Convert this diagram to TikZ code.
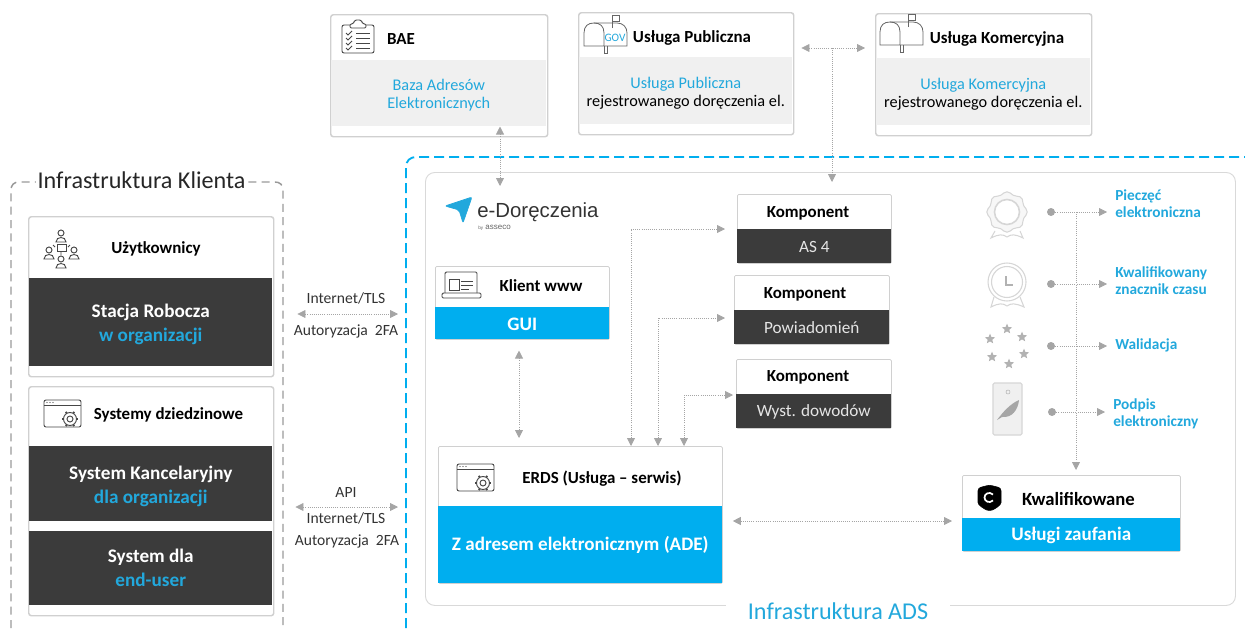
\documentclass[tikz,border=0pt]{standalone}
\usepackage{fontspec}
\setmainfont{Carlito}
\newfontfamily\logofont{Liberation Sans}
\usepackage{xcolor}
\usetikzlibrary{arrows.meta,shapes.geometric,calc}
\definecolor{adsblue}{RGB}{0,174,239}
\definecolor{adstext}{RGB}{34,168,220}
\definecolor{darkband}{RGB}{59,59,59}
\definecolor{greyband}{RGB}{240,240,240}
\definecolor{cardline}{RGB}{208,208,208}
\definecolor{linkgrey}{RGB}{165,165,165}
\definecolor{iconline}{RGB}{70,70,70}
\definecolor{medalline}{RGB}{214,214,214}
\newcommand{\firstline}{\rule{0pt}{0.95em}}

\begin{document}
\begin{tikzpicture}[x=0.75pt,y=0.75pt,yscale=-1,xscale=1,
	size/.style 2 args={minimum width=#1*0.75pt,minimum height=#2*0.75pt},
	card/.style={draw=cardline,line width=1.1pt,rounded corners=2pt,fill=white,anchor=north west,inner sep=0pt},
	softcard/.style={draw=cardline,line width=0.6pt,rounded corners=1pt,fill=white,anchor=north west,inner sep=0pt},
	band/.style={anchor=north west,inner sep=0pt,align=center},
	oneline/.style={execute at begin node={\rule{0pt}{0.75em}}},
	head/.style={inner sep=0pt,text=black,text depth=0pt,font=\fontsize{12.7}{15}\bfseries},
	graybody/.style={band,fill=greyband,font=\fontsize{12.2}{13.5}\selectfont},
	darkbody/.style={band,fill=darkband,text=white,font=\fontsize{14.4}{18}\bfseries},
	darksmall/.style={band,oneline,fill=darkband,text=white!90!black,font=\fontsize{12.9}{15}\selectfont},
	bluebody/.style={band,oneline,fill=adsblue,text=white,font=\fontsize{14.3}{17}\bfseries},
	netlabel/.style={inner sep=0pt,text=black!80,font=\fontsize{11.7}{14}\selectfont},
	side/.style={anchor=west,inner sep=0pt,align=left,text=adstext,font=\fontsize{11.5}{12.75}\bfseries},
	title/.style={inner sep=0pt,fill=white,font=\fontsize{18.1}{22}\selectfont},
	link/.style={draw=linkgrey,line width=0.6pt,densely dotted,>={Triangle[length=6pt,width=6pt,fill=linkgrey]}},
	medal/.style={draw=medalline,line width=0.8pt},
	icon/.style={draw=iconline,line width=0.7pt},
	flake/.style={star,star points=5,star point ratio=2.2,fill=black!30,inner sep=0pt,minimum size=8pt},
	mailbox/.pic={
		\draw [draw=black!60,line width=0.6pt] (0,31) -- (0,18) .. controls (0,11) and (4,8) .. (10,8) .. controls (16,8) and (20,11) .. (20,18) -- (20,31) -- cycle ;
		\draw [draw=black!60,line width=0.6pt] (10,8) -- (33,8) .. controls (39,8) and (43,12) .. (43,18) -- (43,31) -- (20,31) ;
		\draw [draw=black!60,line width=0.6pt] (28,13) -- (28,0) -- (35,0) -- (35,6) -- (28,6) ;
		\draw [draw=black!60,line width=0.6pt] (20,31) -- (20,38) -- (23,38) -- (23,31) ;
	},
	windowgear/.pic={
		\draw [icon,rounded corners=1.5pt] (0,0) rectangle (37,27) ;
		\draw [icon] (0,5) -- (37,5) ;
		\foreach \i in {3,6,9} \fill [iconline] (\i,2.5) circle [radius=0.7] ;
		\draw [icon,fill=white] (26,19) circle [radius=6.5] ;
		\draw [icon] (26,19) circle [radius=3] ;
		\foreach \a in {0,60,...,300} \draw [icon,line width=1.3pt] (26,19) ++(\a:6.5) -- ++(\a:1.8) ;
	},
	person/.pic={
		\draw [icon] (0,0) circle [radius=3] ;
		\draw [icon] (-5,9) .. controls (-5,3) and (5,3) .. (5,9) -- cycle ;
	}]

	\useasboundingbox (0,0) rectangle (1245,628) ;

	%Shape: Client frame
	\draw [draw=black!40,line width=1.1pt,dash pattern=on 6pt off 4pt] (11,628) -- (11,190) .. controls (11,185) and (14,182) .. (19,182) -- (275,182) .. controls (280,182) and (283,185) .. (283,190) -- (283,628) ;
	%Shape: ADS frame
	\draw [draw=adsblue,line width=1.4pt,dash pattern=on 7.5pt off 3.75pt] (406,628) -- (406,167) .. controls (406,161) and (410,157) .. (416,157) -- (1245,157) ;
	%Shape: ADS panel
	\draw (425,172) node [draw=black!15,line width=0.7pt,rounded corners=7pt,anchor=north west,inner sep=0pt,size={810}{433}] (panel) {};

	% Text Node
	\draw (141.5,180) node [title,text=black!85,minimum width=159pt] (clientlabel) {Infrastruktura Klienta};
	% Text Node
	\draw (838,611) node [title,text=adstext,minimum width=168pt,minimum height=14pt] (adslabel) {Infrastruktura ADS};

	%Shape: BAE card
	\draw (330,14) node [card,size={217}{122}] (bae) {};
	\draw (331,60) node [graybody,size={215}{66}] (baeband) {\firstline\textcolor{adstext}{Baza Adresów}\\\textcolor{adstext}{Elektronicznych}};
	\draw (401,39) node [head] (baehead) {BAE};
	\draw [icon,rounded corners=1.5pt] (342,25) rectangle (374,53) ;
	\draw [icon,fill=white,rounded corners=1pt] (350,24) -- (353,24) -- (355,20) -- (361,20) -- (363,24) -- (366,24) -- (366,28) -- (350,28) -- cycle ;
	\foreach \i in {33,38,43,48} {
		\draw [icon] (346,\i) -- (348,\i+2) -- (352,\i-2) ;
		\draw [icon] (356,\i) -- (370,\i) ;
	}

	%Shape: Public service card
	\draw (578,12) node [card,size={215}{122}] (pub) {};
	\draw (579,57) node [graybody,size={213}{67}] (pubband) {\firstline\textcolor{adstext}{Usługa Publiczna}\\rejestrowanego doręczenia el.};
	\draw (692,37) node [head] (pubhead) {Usługa Publiczna};
	\pic [transform shape] at (584,15) {mailbox};
	\draw (615,37.5) node [inner sep=0pt,text=adstext,font=\fontsize{8.5}{10}\selectfont] (govtag) {GOV};

	%Shape: Commercial service card
	\draw (875,13) node [card,size={216}{122}] (kom) {};
	\draw (876,58) node [graybody,size={214}{67}] (komband) {\firstline\textcolor{adstext}{Usługa Komercyjna}\\rejestrowanego doręczenia el.};
	\draw (997,38) node [head] (komhead) {Usługa Komercyjna};
	\pic [transform shape] at (880,14) {mailbox};

	%Shape: Users card
	\draw (28,216) node [card,size={245}{160}] (users) {};
	\draw (29,278) node [darkbody,size={243}{88}] (usersband) {\firstline Stacja Robocza\\\textcolor{adstext}{w organizacji}};
	\draw (156,248) node [head] (usershead) {Użytkownicy};
	\pic [transform shape] at (61,233) {person};
	\pic [transform shape] at (49,250) {person};
	\pic [transform shape] at (74,250) {person};
	\pic [transform shape] at (61,259) {person};
	\draw [icon] (57,244) rectangle (66,251) ;
	\draw [icon] (55,247) -- (53,245) (68,247) -- (70,245) (61,251) -- (61,255) ;

	%Shape: Domain systems card
	\draw (28,386) node [card,size={245}{229}] (systems) {};
	\draw (29,446) node [darkbody,size={243}{75}] (kancband) {\firstline System Kancelaryjny\\\textcolor{adstext}{dla organizacji}};
	\draw (29,531) node [darkbody,size={243}{74}] (enduserband) {System dla\\\textcolor{adstext}{end-user}};
	\draw (168.5,414) node [head] (systemshead) {Systemy dziedzinowe};
	\pic [transform shape] at (44,400) {windowgear};

	%Shape: Logo
	\draw [fill=adstext,draw=adstext,line width=0.5pt,rounded corners=1.5pt] (445,206) -- (472,197) -- (463,223) -- (459,210) -- cycle ;
	\draw (477,212) node [anchor=west,inner sep=0pt,text=black!80,font={\fontsize{15.3}{18}\logofont}] (logo) {e-Doręczenia};
	\draw (478,228) node [anchor=west,inner sep=0pt,text=black!60,font={\fontsize{6}{7}\logofont}] (logoby) {{\fontsize{3.5}{4}\selectfont by} asseco};

	%Shape: Web client card
	\draw (435,266) node [softcard,size={174}{73}] (www) {};
	\draw (435,307) node [bluebody,size={174}{32}] (guiband) {GUI};
	\draw (541,286) node [head] (wwwhead) {Klient www};
	\draw [icon,rounded corners=1pt] (445,293) -- (445,272) -- (477,272) -- (477,293) ;
	\draw [icon,rounded corners=1pt] (442,293) rectangle (481,298) ;
	\draw [icon] (449,279) rectangle (459,290) ;
	\draw [icon] (461,281) -- (473,281) (461,285) -- (473,285) (461,289) -- (469,289) ;

	%Shape: Component cards
	\draw (737,194) node [softcard,size={154}{69}] (as4) {};
	\draw (737,229) node [darksmall,size={154}{34}] (as4band) {AS 4};
	\draw (808,212) node [head] (as4head) {Komponent};
	\draw (734,275) node [softcard,size={155}{69}] (notify) {};
	\draw (734,310) node [darksmall,size={155}{34}] (notifyband) {Powiadomień};
	\draw (805,293) node [head] (notifyhead) {Komponent};
	\draw (736,359) node [softcard,size={155}{69}] (proof) {};
	\draw (736,394) node [darksmall,size={155}{34}] (proofband) {Wyst. dowodów};
	\draw (808,376) node [head] (proofhead) {Komponent};

	%Shape: ERDS card
	\draw (438,446) node [softcard,size={284}{137}] (erds) {};
	\draw (438,506) node [bluebody,size={284}{77}] (erdsband) {Z adresem elektronicznym (ADE)};
	\draw (602,477) node [head] (erdshead) {ERDS (Usługa -- serwis)};
	\pic [transform shape] at (457,464) {windowgear};

	%Shape: Trust card
	\draw (962,475) node [softcard,size={218}{76}] (trust) {};
	\draw (962,518) node [bluebody,size={218}{33}] (trustband) {Usługi zaufania};
	\draw (1078.5,499) node [head,font=\fontsize{14}{16}\bfseries] (trusthead) {Kwalifikowane};
	\draw [fill=black,rounded corners=2pt] (978,488) -- (989.5,485) -- (1001,488) -- (1001,500) .. controls (1001,505) and (995,509) .. (989.5,511) .. controls (984,509) and (978,505) .. (978,500) -- cycle ;
	\draw [draw=white,line width=1.3pt] (993,494.5) .. controls (989,491) and (984.5,494) .. (984.5,497.5) .. controls (984.5,501) and (989,504) .. (993,500.5) ;

	%Shape: Seal
	\draw [medal,fill=black!3] plot [domain=0:350,samples=36,smooth cycle] ({1007+(19+1.2*cos(8*\x))*cos(\x)},{212+(19+1.2*cos(8*\x))*sin(\x)}) ;
	\draw [medal,fill=white,line width=1.2pt] (1007,212) circle [radius=12.5] ;
	\draw [medal] (995,231) -- (991,238) .. controls (999,234) and (1003,234) .. (1007,237) .. controls (1011,234) and (1015,234) .. (1023,238) -- (1020,231) ;
	%Shape: Clock
	\draw [medal] (994,297) -- (991,307) .. controls (999,303) and (1003,303) .. (1007,306) .. controls (1011,303) and (1015,303) .. (1024,307) -- (1020,297) ;
	\draw [medal,fill=white] (1007,282) circle [radius=19] ;
	\draw [medal] (1007,282) circle [radius=15.5] ;
	\draw [draw=black!30,line width=0.8pt] (1006,276) -- (1006,285) -- (1013,285) ;
	%Shape: Stars
	\draw (1007,329) node [flake] (star1) {};
	\draw (1022,337) node [flake] (star2) {};
	\draw (1024,354) node [flake] (star3) {};
	\draw (1009,364) node [flake] (star4) {};
	\draw (992,357) node [flake] (star5) {};
	\draw (990,339) node [flake] (star6) {};
	%Shape: Phone
	\draw [medal,fill=black!6,rounded corners=1pt] (993,383) rectangle (1022,435) ;
	\draw [draw=black!30,line width=0.4pt] (1008,392) circle [radius=2] ;
	\fill [black!35] (997,420) .. controls (1003,412) and (1010,404) .. (1019,400) .. controls (1018,410) and (1012,418) .. (1002,417) -- cycle ;

	% Text Node
	\draw (1115,204) node [side] (seallabel) {Pieczęć\\elektroniczna};
	\draw (1115,281) node [side] (timelabel) {Kwalifikowany\\znacznik czasu};
	\draw (1115,345) node [side] (validlabel) {Walidacja};
	\draw (1113,413.5) node [side] (signlabel) {Podpis\\elektroniczny};
	\draw (346,298) node [netlabel] (net1a) {Internet/TLS};
	\draw (346,331) node [netlabel] (net1b) {Autoryzacja\ \ 2FA};
	\draw (346,492) node [netlabel] (apilabel) {API};
	\draw (346,518) node [netlabel] (net2a) {Internet/TLS};
	\draw (347,541) node [netlabel] (net2b) {Autoryzacja\ \ 2FA};

	%Connector ends
	\coordinate (baeport) at (500,186);
	\coordinate (pubkom) at (832,48);
	\coordinate (netline) at (346,314);
	\coordinate (apiline) at (346,507);
	\coordinate (wwwline) at (519,395);
	\coordinate (as4turn) at (631,229);
	\coordinate (notifyturn) at (658,318);
	\coordinate (proofturn) at (684,395);
	\coordinate (trustline) at (840,521);
	\coordinate (sealdot) at (1051,212);
	\coordinate (timedot) at (1051,284);
	\coordinate (validdot) at (1051,346);
	\coordinate (signdot) at (1052,412);
	\coordinate (bus) at (1076,212);

	%Curve Lines
	\draw [link,<->] (baeband.south -| baeport) -- (baeport) ;
	\draw [link,<->,shorten <=5.25pt,shorten >=7.5pt] (pub.east |- pubkom) -- (kom.west |- pubkom) ;
	\draw [link,->,shorten >=9pt] (pubkom) -- (as4.north -| pubkom) ;
	\draw [link,<->,shorten <=17.25pt,shorten >=20.25pt] (users.east |- netline) -- (panel.west |- netline) ;
	\draw [link,<->,shorten <=15.75pt,shorten >=20.25pt] (systems.east |- apiline) -- (panel.west |- apiline) ;
	\draw [link,<->,shorten <=8.25pt,shorten >=6pt] (wwwline |- guiband.south) -- (wwwline |- erds.north) ;
	\draw [link,<->,shorten >=9pt] (as4turn |- erds.north) -- (as4turn) -- (as4.west |- as4turn) ;
	\draw [link,<->,shorten >=6.75pt] (notifyturn |- erds.north) -- (notifyturn) -- (notify.west |- notifyturn) ;
	\draw [link,<->,shorten >=2.25pt] (proofturn |- erds.north) -- (proofturn) -- (proof.west |- proofturn) ;
	\draw [link,<->,shorten <=7.5pt,shorten >=7.5pt] (erds.east |- trustline) -- (trust.west |- trustline) ;
	\draw [link,->,shorten >=3.75pt] (bus) -- (trust.north -| bus) ;
	\foreach \dotname/\labelname in {sealdot/seallabel,timedot/timelabel,validdot/validlabel,signdot/signlabel} {
		\fill [linkgrey] (\dotname) circle [radius=4] ;
		\draw [link,->,shorten >=6pt] (\dotname) -- (\labelname.west |- \dotname) ;
	}
\end{tikzpicture}
\end{document}
